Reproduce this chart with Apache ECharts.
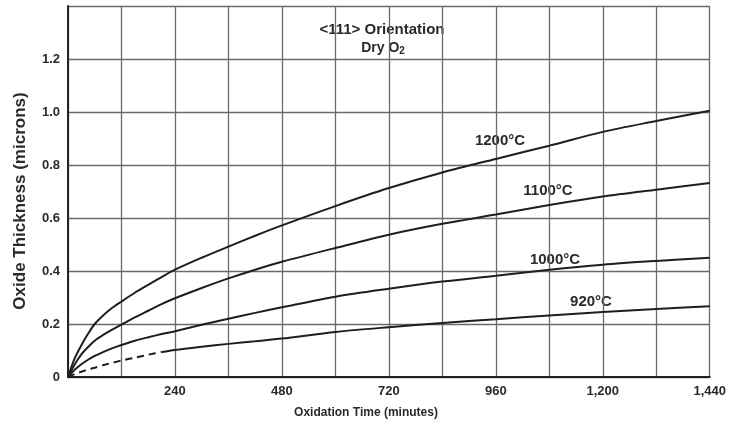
<!DOCTYPE html>
<html>
<head>
<meta charset="utf-8">
<script src="https://cdn.jsdelivr.net/npm/echarts@6/dist/echarts.min.js"></script>
<style>
html,body{margin:0;padding:0;background:#fff;}
#c{width:729px;height:429px;}
</style>
</head>
<body>
<div id="c"></div>
<script>
var times = [0, 15, 30, 45, 60, 80, 100, 120, 150, 180, 210, 240, 300, 360, 420, 480, 600, 720, 840, 960, 1080, 1200, 1320, 1440];
var t1200 = [0, 0.07, 0.12, 0.163, 0.20, 0.234, 0.262, 0.285, 0.318, 0.348, 0.377, 0.405, 0.45, 0.492, 0.533, 0.572, 0.645, 0.713, 0.772, 0.823, 0.873, 0.925, 0.966, 1.005];
var t1100 = [0, 0.047, 0.085, 0.113, 0.137, 0.16, 0.18, 0.198, 0.225, 0.25, 0.275, 0.297, 0.336, 0.372, 0.405, 0.435, 0.487, 0.537, 0.578, 0.613, 0.649, 0.681, 0.707, 0.732];
var t1000 = [0, 0.027, 0.048, 0.065, 0.08, 0.095, 0.109, 0.121, 0.137, 0.15, 0.162, 0.173, 0.197, 0.22, 0.242, 0.263, 0.303, 0.333, 0.36, 0.382, 0.405, 0.424, 0.438, 0.45];
var t920  = [0, 0.011, 0.02, 0.028, 0.035, 0.045, 0.054, 0.062, 0.073, 0.084, 0.094, 0.102, 0.114, 0.125, 0.135, 0.145, 0.17, 0.188, 0.204, 0.218, 0.232, 0.245, 0.257, 0.267];
var dashEnd = 210; // 920°C curve is dashed up to this time
var xTickLabels = ['240', '480', '720', '960', '1,200', '1,440'];
var yTickLabels = ['0', '0.2', '0.4', '0.6', '0.8', '1.0', '1.2'];
var curveLabels = ['1200°C', '1100°C', '1000°C', '920°C'];

function pairs(vals, filt) {
  var out = [];
  for (var i = 0; i < times.length; i++) {
    if (!filt || filt(times[i])) out.push([times[i], vals[i]]);
  }
  return out;
}

var FONT = 'Liberation Sans, Arial, sans-serif';
var TXT = '#2a2a2a';

function curve(name, data, dashed) {
  return {
    name: name, type: 'line', data: data, showSymbol: false, symbol: 'none',
    smooth: 0.3,
    lineStyle: {color: '#1e1e1e', width: 2, type: dashed ? [7, 5] : 'solid'},
    silent: true, animation: false
  };
}
function label(text, x, y, size) {
  return {type: 'text', x: x, y: y, style: {text: text, fill: TXT, font: 'bold ' + size + 'px ' + FONT, textAlign: 'center', textVerticalAlign: 'middle'}};
}

var chart = echarts.init(document.getElementById('c'), null, {renderer: 'canvas'});
chart.setOption({
  animation: false,
  backgroundColor: '#fff',
  grid: {left: 68, right: 16, top: 6, bottom: 52, containLabel: false},
  xAxis: {
    type: 'value', min: 0, max: 1440, interval: 120,
    axisLine: {show: true, onZero: false, lineStyle: {color: '#222', width: 2}},
    axisTick: {show: false},
    splitLine: {show: true, lineStyle: {color: '#6a6a6a', width: 1.3}},
    axisLabel: {
      margin: 8, color: TXT, fontFamily: FONT, fontWeight: 'bold', fontSize: 13,
      formatter: function (v) {
        if (v > 0 && v % 240 === 0) return xTickLabels[v / 240 - 1];
        return '';
      }
    }
  },
  yAxis: {
    type: 'value', min: 0, max: 1.4, interval: 0.2,
    axisLine: {show: true, onZero: false, lineStyle: {color: '#222', width: 2}},
    axisTick: {show: false},
    splitLine: {show: true, lineStyle: {color: '#6a6a6a', width: 1.3}},
    axisLabel: {
      margin: 8, color: TXT, fontFamily: FONT, fontWeight: 'bold', fontSize: 13,
      formatter: function (v) {
        var i = Math.round(v / 0.2);
        return i < yTickLabels.length ? yTickLabels[i] : '';
      }
    }
  },
  series: [
    curve('1200°C', pairs(t1200)),
    curve('1100°C', pairs(t1100)),
    curve('1000°C', pairs(t1000)),
    curve('920°C dashed', pairs(t920, function (t) { return t <= dashEnd; }), true),
    curve('920°C', pairs(t920, function (t) { return t >= dashEnd; }))
  ],
  graphic: [
    label('<111> Orientation', 382, 30, 15),
    {type: 'text', x: 383, y: 48, style: {
      text: '{a|Dry O}{s|2}', textAlign: 'center', textVerticalAlign: 'middle',
      rich: {a: {fill: TXT, font: 'bold 14px ' + FONT}, s: {fill: TXT, font: 'bold 10px ' + FONT, padding: [7, 0, 0, 0]}}
    }},
    label(curveLabels[0], 500, 141, 15),
    label(curveLabels[1], 548, 191, 15),
    label(curveLabels[2], 555, 260, 15),
    label(curveLabels[3], 591, 302, 15),
    label('Oxidation Time (minutes)', 366, 413, 12),
    {type: 'text', x: 20, y: 201, rotation: Math.PI / 2, style: {text: 'Oxide Thickness (microns)', fill: TXT, font: 'bold 17px ' + FONT, textAlign: 'center', textVerticalAlign: 'middle'}}
  ]
});
</script>
</body>
</html>
